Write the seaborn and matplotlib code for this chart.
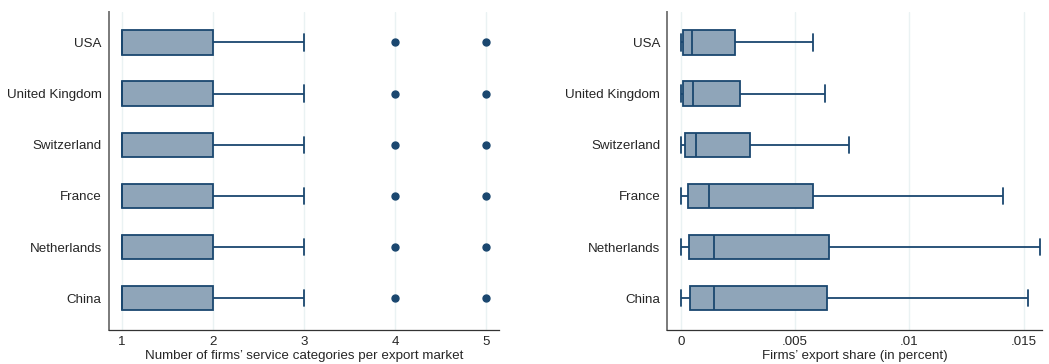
import numpy as np
import pandas as pd
import matplotlib.pyplot as plt
import seaborn as sns

countries = ["USA", "United Kingdom", "Switzerland", "France", "Netherlands", "China"]

# left panel: distribution of service categories per export market (same for every country)
n_categories = [1, 2, 3, 4, 5]
firm_counts = [7, 3, 1, 1, 1]

# right panel: box summary of firms' export share, per country
share_min = [0.0, 0.0, 0.0, 0.0, 0.0, 0.0]
share_q1 = [0.00010, 0.00010, 0.00017, 0.00029, 0.00035, 0.00039]
share_med = [0.00047, 0.00055, 0.00068, 0.00121, 0.00147, 0.00146]
share_q3 = [0.00236, 0.00258, 0.00304, 0.00580, 0.00650, 0.00638]
share_max = [0.00580, 0.00632, 0.00734, 0.01410, 0.01570, 0.01520]

fill = "#8fa5b9"
navy = "#1a476f"
grid = "#eaf2f3"

left_rows = []
for c in countries:
    for v, n in zip(n_categories, firm_counts):
        left_rows += [(c, v)] * n
left_df = pd.DataFrame(left_rows, columns=["country", "value"])

right_rows = []
for i, c in enumerate(countries):
    for v in (share_min[i], share_q1[i], share_med[i], share_q3[i], share_max[i]):
        right_rows.append((c, v))
right_df = pd.DataFrame(right_rows, columns=["country", "value"])

sns.set_style("white")
plt.rcParams["font.family"] = ["Liberation Sans", "DejaVu Sans"]

fig = plt.figure(figsize=(10.49, 3.64), dpi=100)
ax1 = fig.add_axes([0.1036, 0.0934, 0.3721, 0.8746])
ax2 = fig.add_axes([0.636, 0.0934, 0.3573, 0.8746])

box_kws = dict(
    y="country", x="value", order=countries, orient="h", width=0.475,
    color=fill, saturation=1, linecolor=navy, linewidth=1.3,
    fliersize=5,
    flierprops=dict(marker="o", markerfacecolor=navy, markeredgecolor=navy),
    capwidths=0.32,
)

sns.boxplot(data=left_df, ax=ax1, whis=1.5, **box_kws)
sns.boxplot(data=right_df, ax=ax2, whis=(0, 100), **box_kws)

ax1.set_xlim(0.855, 5.14)
ax1.set_xticks([1, 2, 3, 4, 5])
ax1.set_xticklabels(["1", "2", "3", "4", "5"])
ax1.set_xlabel("Number of firms\u2019 service categories per export market", fontsize=9.6, labelpad=1)

ax2.set_xlim(-0.0006, 0.0158)
ax2.set_xticks([0, 0.005, 0.01, 0.015])
ax2.set_xticklabels(["0", ".005", ".01", ".015"])
ax2.set_xlabel("Firms\u2019 export share (in percent)", fontsize=9.6, labelpad=1)

for ax in (ax1, ax2):
    ax.set_ylim(5.62, -0.6)
    ax.set_ylabel("")
    ax.set_axisbelow(True)
    ax.xaxis.grid(True, color=grid, linewidth=1)
    ax.yaxis.grid(False)
    for s in ("top", "right"):
        ax.spines[s].set_visible(False)
    ax.spines["left"].set_color("#7a7a7a")
    ax.spines["left"].set_linewidth(1.4)
    ax.spines["bottom"].set_color("#333333")
    ax.spines["bottom"].set_linewidth(0.9)
    ax.tick_params(axis="x", length=3, width=0.8, color="#333333", pad=1.5, labelsize=9.6)
    ax.tick_params(axis="y", length=0, pad=5, labelsize=9.6)

fig.savefig("out.png", dpi=100)
